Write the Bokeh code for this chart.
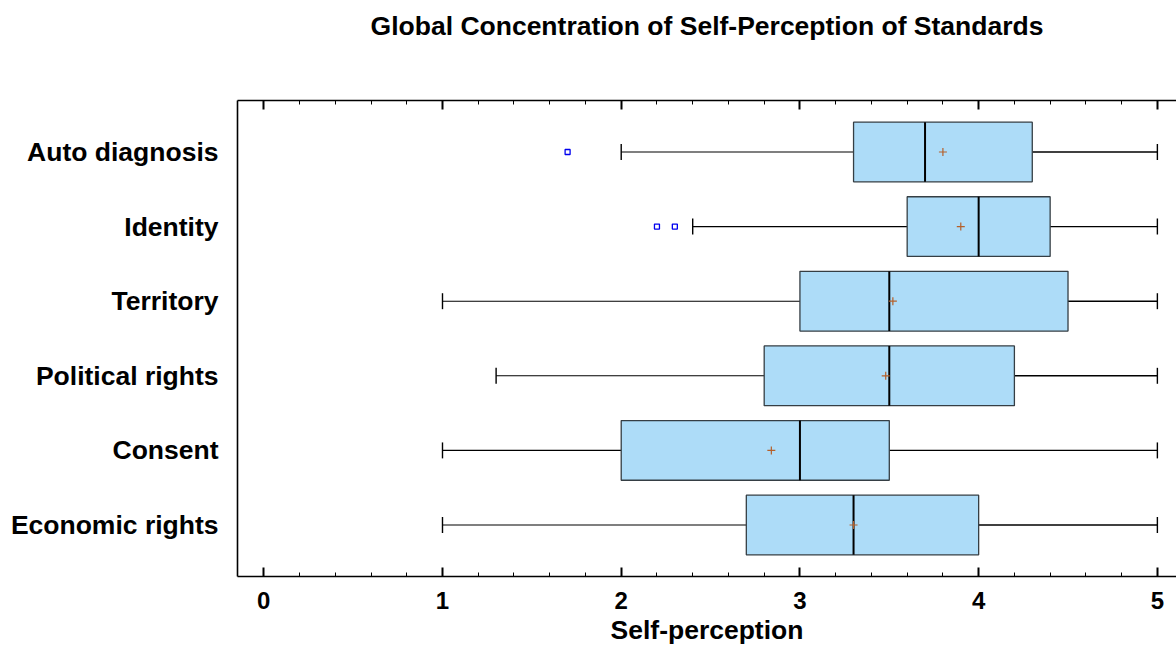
from bokeh.plotting import figure
from bokeh.models import (Range1d, LinearAxis, FixedTicker, ColumnDataSource)
from bokeh.embed import file_html
from bokeh.resources import INLINE

# ---- data (top to bottom) ----
title_text = "Global Concentration of Self-Perception of Standards"
categories = ["Auto diagnosis", "Identity", "Territory", "Political rights", "Consent", "Economic rights"]
whisker_low = [2.0, 2.4, 1.0, 1.3, 1.0, 1.0]
q1 = [3.3, 3.6, 3.0, 2.8, 2.0, 2.7]
median = [3.7, 4.0, 3.5, 3.5, 3.0, 3.3]
q3 = [4.3, 4.4, 4.5, 4.2, 3.5, 4.0]
whisker_high = [5.0, 5.0, 5.0, 5.0, 5.0, 5.0]
mean = [3.8, 3.9, 3.52, 3.48, 2.84, 3.3]
outlier_cat = ["Auto diagnosis", "Identity", "Identity"]
outlier_val = [1.7, 2.2, 2.3]
x_ticks = [0, 1, 2, 3, 4, 5]
x_minor = [0.2, 0.4, 0.6, 0.8, 1.2, 1.4, 1.6, 1.8, 2.2, 2.4, 2.6, 2.8,
           3.2, 3.4, 3.6, 3.8, 4.2, 4.4, 4.6, 4.8]

FONT = "Liberation Sans"
n = len(categories)
ypos = [n - i for i in range(n)]
ymap = dict(zip(categories, ypos))

BOX_H = 0.8
CAP_H = 0.107

src = ColumnDataSource(dict(
    y=ypos, lo=whisker_low, q1=q1, med=median, q3=q3, hi=whisker_high, mean=mean,
    ytop=[y + BOX_H / 2 for y in ypos], ybot=[y - BOX_H / 2 for y in ypos],
    ctop=[y + CAP_H for y in ypos], cbot=[y - CAP_H for y in ypos],
))
osrc = ColumnDataSource(dict(x=outlier_val, y=[ymap[c] for c in outlier_cat]))

p = figure(width=1176, height=650, output_backend="svg", toolbar_location=None,
           x_range=Range1d(-0.147, 5.107), y_range=Range1d(0.31, n + 0.69),
           x_axis_location=None, y_axis_location=None,
           min_border_left=237, min_border_right=0, min_border_top=100, min_border_bottom=74)
p.outline_line_color = None
p.xgrid.visible = False
p.ygrid.visible = False
p.background_fill_color = "white"
p.border_fill_color = "white"

xt = FixedTicker(ticks=x_ticks, minor_ticks=x_minor)

def style_x(ax):
    ax.axis_line_width = 1.6
    ax.axis_line_color = "black"
    ax.major_tick_in = 9
    ax.major_tick_out = 0
    ax.minor_tick_in = 4
    ax.minor_tick_out = 0
    ax.major_tick_line_width = 2
    ax.minor_tick_line_width = 1
    ax.major_tick_line_color = "black"
    ax.minor_tick_line_color = "black"

xb = LinearAxis(ticker=xt, axis_label="Self-perception")
style_x(xb)
xb.major_label_text_font = FONT
xb.major_label_text_font_size = "24px"
xb.major_label_text_font_style = "bold"
xb.major_label_text_color = "black"
xb.major_label_standoff = 15
xb.axis_label_text_font = FONT
xb.axis_label_text_font_size = "26.5px"
xb.axis_label_text_font_style = "bold"
xb.axis_label_text_color = "black"
xb.axis_label_standoff = 3
p.add_layout(xb, "below")

# top frame axis; its label carries the chart title
xa = LinearAxis(ticker=xt, axis_label=title_text)
style_x(xa)
xa.major_label_overrides = {t: "" for t in x_ticks}
xa.major_label_standoff = 0
xa.major_label_text_font_size = "1px"
xa.axis_label_text_font = FONT
xa.axis_label_text_font_size = "26.5px"
xa.axis_label_text_font_style = "bold"
xa.axis_label_text_color = "black"
xa.axis_label_standoff = 60
p.add_layout(xa, "above")

yl = LinearAxis(ticker=FixedTicker(ticks=ypos, minor_ticks=[]))
yl.major_label_overrides = {y: c for y, c in zip(ypos, categories)}
yl.axis_line_width = 1.6
yl.axis_line_color = "black"
yl.major_tick_in = 0
yl.major_tick_out = 0
yl.minor_tick_in = 0
yl.minor_tick_out = 0
yl.major_label_standoff = 19
yl.major_label_text_font = FONT
yl.major_label_text_font_size = "26.5px"
yl.major_label_text_font_style = "bold"
yl.major_label_text_color = "black"
p.add_layout(yl, "left")

# whiskers
p.segment(x0="lo", y0="y", x1="q1", y1="y", source=src, line_color="black", line_width=1.1)
p.segment(x0="q3", y0="y", x1="hi", y1="y", source=src, line_color="black", line_width=1.4)
# caps
p.segment(x0="lo", y0="cbot", x1="lo", y1="ctop", source=src, line_color="black", line_width=1.4)
p.segment(x0="hi", y0="cbot", x1="hi", y1="ctop", source=src, line_color="black", line_width=1.4)
# boxes
p.quad(left="q1", right="q3", bottom="ybot", top="ytop", source=src,
       fill_color="#ADDCF8", line_color="#353E44", line_width=1.3)
# medians
p.segment(x0="med", y0="ybot", x1="med", y1="ytop", source=src, line_color="black", line_width=2)
# means
p.scatter(x="mean", y="y", source=src, marker="cross", size=8, line_color="#B5602A", line_width=1.2)
# outliers
p.scatter(x="x", y="y", source=osrc, marker="square", size=5, line_color="#0000EE",
          fill_color="white", line_width=1.3)

open("out.html", "w").write(file_html(p, INLINE))
